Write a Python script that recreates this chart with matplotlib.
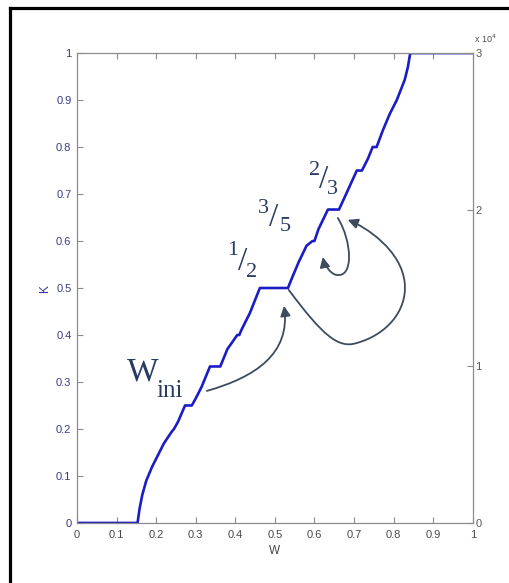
import matplotlib
matplotlib.use('Agg')
import matplotlib.pyplot as plt
from matplotlib.patches import FancyArrowPatch
from matplotlib.path import Path
from matplotlib.lines import Line2D

# devil's staircase K(W)
W = [0, 0.153, 0.158, 0.165, 0.175, 0.19, 0.205, 0.22, 0.24, 0.245, 0.255,
     0.273, 0.29, 0.3, 0.315, 0.336, 0.362, 0.38, 0.405, 0.41, 0.415, 0.437,
     0.462, 0.533, 0.545, 0.56, 0.58, 0.595, 0.6, 0.61, 0.634, 0.662, 0.68,
     0.707, 0.72, 0.735, 0.747, 0.757, 0.773, 0.79, 0.808, 0.828, 0.836,
     0.842, 1.0]
K = [0, 0, 0.03, 0.06, 0.09, 0.12, 0.145, 0.17, 0.195, 0.2, 0.215,
     0.25, 0.25, 0.265, 0.29, 0.333, 0.333, 0.37, 0.4, 0.4, 0.41, 0.447,
     0.5, 0.5, 0.525, 0.555, 0.59, 0.6, 0.6, 0.625, 0.667, 0.667, 0.7,
     0.75, 0.75, 0.775, 0.8, 0.8, 0.836, 0.87, 0.9, 0.943, 0.97,
     1.0, 1.0]

x_ticks = [0, 0.1, 0.2, 0.3, 0.4, 0.5, 0.6, 0.7, 0.8, 0.9, 1]
y_ticks = [0, 0.1, 0.2, 0.3, 0.4, 0.5, 0.6, 0.7, 0.8, 0.9, 1]
tick_labels = ['0', '0.1', '0.2', '0.3', '0.4', '0.5', '0.6', '0.7', '0.8', '0.9', '1']
right_ticks = [0, 1, 2, 3]

# fraction labels: (numerator, denominator, num position, den position)
fractions = [('1', '2', (0.394, 0.579), (0.442, 0.532)),
             ('3', '5', (0.470, 0.670), (0.525, 0.630)),
             ('2', '3', (0.601, 0.751), (0.646, 0.709))]

TICK_FONT = ['Liberation Sans Narrow', 'Liberation Sans', 'DejaVu Sans']
SERIF = ['Liberation Serif', 'DejaVu Serif']
GREY = '#8c8c8c'
ANNOT = '#2b3a63'
ARROW = '#3e4b5e'

plt.rcParams['font.family'] = TICK_FONT

fig = plt.figure(figsize=(5.1, 5.83), dpi=100)
ax = fig.add_axes([0.151, 0.103, 0.776, 0.806])
ax.plot(W, K, color='#1c1cc4', lw=1.9)
ax.set_xlim(0, 1)
ax.set_ylim(0, 1)
ax.set_xticks(x_ticks)
ax.set_xticklabels(tick_labels)
ax.set_yticks(y_ticks)
ax.set_yticklabels(tick_labels)
ax.tick_params(axis='both', direction='in', length=4, width=0.8, color=GREY,
               top=True, right=True, labelsize=8, pad=5)
ax.tick_params(axis='x', labelcolor='#4a4a4a')
ax.tick_params(axis='y', labelcolor='#3a3a8c', pad=4)
for s in ax.spines.values():
    s.set_color(GREY)
    s.set_linewidth(0.9)
ax.set_xlabel('W', fontsize=8.5, color='#454545', labelpad=4)
ax.set_ylabel('K', fontsize=8.5, color='#3535a0', labelpad=4)

ax2 = ax.twinx()
ax2.set_ylim(0, 3)
ax2.set_yticks(right_ticks)
ax2.tick_params(axis='y', direction='in', length=4, width=0.8, color=GREY,
                labelsize=8, labelcolor='#555555', pad=2)
for s in ax2.spines.values():
    s.set_visible(False)
ax2.text(1.003, 1.018, r'x 10$^4$', transform=ax2.transAxes, fontsize=6.5,
         color='#555555', ha='left', va='bottom')

# W_ini label
ax.text(0.167, 0.321, 'W', family=SERIF, fontsize=24, color=ANNOT,
        ha='center', va='center')
ax.text(0.235, 0.28, 'ini', family=SERIF, fontsize=18, color=ANNOT,
        ha='center', va='center')

for num, den, pn, pd in fractions:
    ax.text(pn[0], pn[1], num, family=SERIF, fontsize=16, color=ANNOT,
            ha='center', va='center')
    ax.text(pd[0], pd[1], den, family=SERIF, fontsize=16, color=ANNOT,
            ha='center', va='center')
    ax.text((pn[0] + pd[0]) / 2, (pn[1] + pd[1]) / 2, '/', family=SERIF,
            fontsize=24, color=ANNOT, ha='center', va='center')

# curved arrows
arrow_paths = [
    [(0.328, 0.281), (0.45, 0.31), (0.54, 0.36), (0.523, 0.462)],
    [(0.535, 0.496), (0.62, 0.40), (0.66, 0.37), (0.707, 0.383),
     (0.78, 0.40), (0.835, 0.45), (0.828, 0.511),
     (0.82, 0.58), (0.73, 0.63), (0.684, 0.645)],
    [(0.659, 0.649), (0.695, 0.60), (0.70, 0.52), (0.655, 0.528),
     (0.64, 0.53), (0.625, 0.55), (0.621, 0.566)],
]
for pts in arrow_paths:
    codes = [Path.MOVETO] + [Path.CURVE4] * (len(pts) - 1)
    arr = FancyArrowPatch(path=Path(pts, codes), arrowstyle='-|>,head_length=6,head_width=3',
                          color=ARROW, lw=1.3, transform=ax.transData)
    ax.add_patch(arr)

# black frame around the picture (top and left only)
fig.add_artist(Line2D([0.0196, 1.0], [0.986, 0.986], color='black', lw=2.3,
                      transform=fig.transFigure))
fig.add_artist(Line2D([0.0196, 0.0196], [0.0, 0.986], color='black', lw=2.3,
                      transform=fig.transFigure))

fig.savefig('out.png', dpi=100)
